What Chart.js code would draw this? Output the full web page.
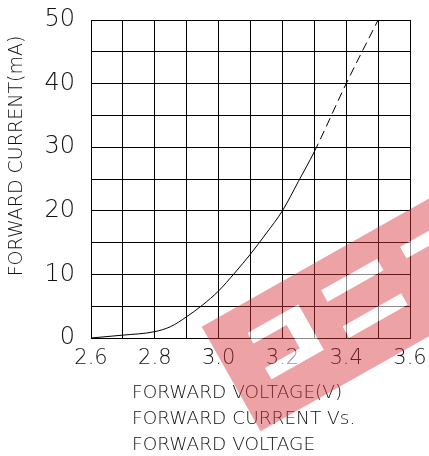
<!DOCTYPE html>
<html>
<head>
<meta charset="utf-8">
<script src="https://cdn.jsdelivr.net/npm/chart.js@4/dist/chart.umd.min.js"></script>
<style>
  html, body { margin: 0; padding: 0; background: #fff; }
  #wrap { width: 429px; height: 456px; }
</style>
</head>
<body>
<div id="wrap"><canvas id="ivChart" width="429" height="456"></canvas></div>
<script>
(function() {
  'use strict';

  // forward voltage (V) vs forward current (mA)
  var voltage = [2.6, 2.7, 2.8, 2.85, 2.9, 2.95, 3.0, 3.05, 3.1, 3.15, 3.2, 3.25, 3.3, 3.4, 3.5];
  var current = [0, 0.45, 1.0, 1.8, 3.35, 5.2, 7.4, 10.2, 13.2, 16.5, 20, 24.6, 29.3, 40, 50];
  var dashFrom = 3.3; // curve is extrapolated (dashed) above this voltage

  var xTicks = [2.6, 2.8, 3.0, 3.2, 3.4, 3.6];
  var yTicks = [0, 10, 20, 30, 40, 50];
  var yTitle = 'FORWARD CURRENT(mA)';
  var xTitle = ['FORWARD VOLTAGE(V)', 'FORWARD CURRENT Vs.', 'FORWARD VOLTAGE'];

  var FONT = '"DejaVu Sans", sans-serif';
  var TEXT = '#111';

  var points = voltage.map(function(v, i) { return { x: v, y: current[i] }; });

  var near = function(list, v) {
    return list.some(function(t) { return Math.abs(t - v) < 1e-6; });
  };

  // axis titles, placed like the datasheet (left aligned block under the x axis)
  var titlesPlugin = {
    id: 'titles',
    afterDraw: function(chart) {
      var c = chart.ctx;
      c.save();
      c.fillStyle = TEXT;
      c.font = '200 19px ' + FONT;
      c.translate(17, 156);
      c.rotate(-Math.PI / 2);
      c.textAlign = 'center';
      c.textBaseline = 'middle';
      c.fillText(yTitle, 0, 0);
      c.restore();

      c.save();
      c.fillStyle = TEXT;
      c.font = '200 18.5px ' + FONT;
      c.textAlign = 'left';
      c.textBaseline = 'alphabetic';
      xTitle.forEach(function(line, i) {
        c.fillText(line, 132, 398 + i * 26);
      });
      c.restore();
    }
  };

  // the red "FE" watermark stamped across the lower right
  var watermarkPlugin = {
    id: 'watermark',
    afterDraw: function(chart) {
      var c = chart.ctx;
      var cuts = [
        [37, 28, 58, 12], [75, 40, 20, 27], [35, 67, 60, 13],
        [122, 27, 64, 13], [123, 69, 67, 13], [212, 28, 60, 13]
      ];
      c.save();
      c.translate(201.7, 326.7);
      c.rotate(Math.atan2(-0.491, 0.871));
      c.beginPath();
      c.rect(0, 0, 320, 120);
      cuts.forEach(function(r) { c.rect(r[0], r[1], r[2], r[3]); });
      c.fillStyle = 'rgba(214, 48, 58, 0.45)';
      c.fill('evenodd');
      c.fillStyle = 'rgba(255, 255, 255, 0.55)';
      cuts.forEach(function(r) { c.fillRect(r[0], r[1], r[2], r[3]); });
      c.restore();
    }
  };

  var ivChart = new Chart(document.getElementById('ivChart'), {
    type: 'scatter',
    data: {
      datasets: [{
        data: points,
        showLine: true,
        borderColor: '#000',
        borderWidth: 1,
        pointRadius: 0,
        cubicInterpolationMode: 'monotone',
        segment: {
          borderDash: function(ctx) {
            return ctx.p0.parsed.x >= dashFrom - 1e-6 ? [9, 5] : undefined;
          }
        }
      }]
    },
    options: {
      responsive: false,
      devicePixelRatio: 1,
      animation: false,
      layout: { padding: { top: 20, right: 19, left: 0, bottom: 0 } },
      plugins: {
        legend: { display: false },
        tooltip: { enabled: false }
      },
      scales: {
        x: {
          type: 'linear',
          min: 2.6,
          max: 3.6,
          afterFit: function(scale) {
            scale.height = 118;
            scale.paddingLeft = 0;
            scale.paddingRight = 0;
          },
          ticks: {
            stepSize: 0.1,
            autoSkip: false,
            maxRotation: 0,
            padding: 8,
            color: TEXT,
            font: { family: FONT, size: 21, weight: '200' },
            callback: function(v) { return near(xTicks, v) ? v.toFixed(1) : ''; }
          },
          grid: { color: '#000', lineWidth: 1, drawTicks: false },
          border: { color: '#000', width: 1 }
        },
        y: {
          min: 0,
          max: 50,
          afterFit: function(scale) {
            scale.width = 91;
            scale.paddingTop = 0;
            scale.paddingBottom = 0;
          },
          ticks: {
            stepSize: 5,
            autoSkip: false,
            padding: 16,
            color: TEXT,
            font: { family: FONT, size: 24, weight: '200' },
            callback: function(v) { return near(yTicks, v) ? String(v) : ''; }
          },
          grid: { color: '#000', lineWidth: 1, drawTicks: false },
          border: { color: '#000', width: 1 }
        }
      }
    },
    plugins: [titlesPlugin, watermarkPlugin]
  });
}());
</script>
</body>
</html>
